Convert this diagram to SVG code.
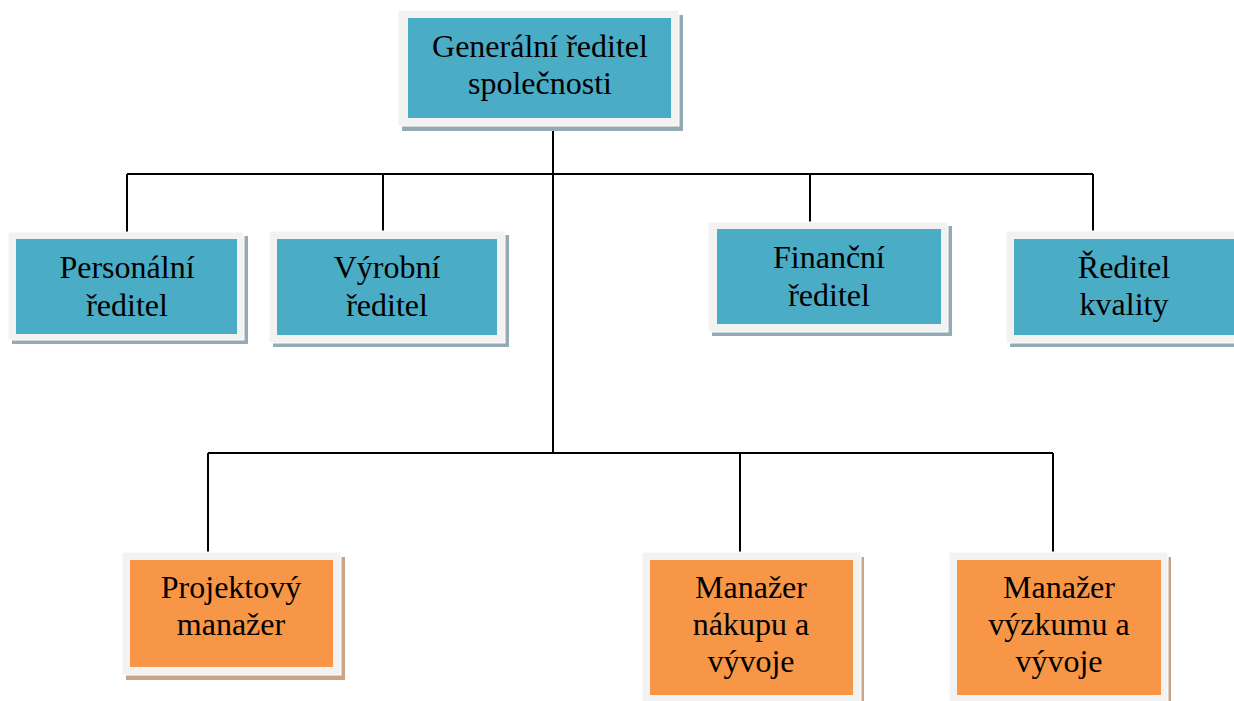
<svg xmlns="http://www.w3.org/2000/svg" width="1234" height="701" viewBox="0 0 1234 701">
<style>
.frame{fill:#f2f2f2;stroke:#ffffff;stroke-width:1}
.sb{fill:#94aab4}
.so{fill:#c9a484}
.blue{fill:#4bacc6}
.orange{fill:#f79646}
.t{font-family:"Liberation Serif","Times New Roman",serif;font-size:32px;fill:#000;text-anchor:middle}
.c{stroke:#000;stroke-width:2;fill:none}
</style>
<rect width="1234" height="701" fill="#ffffff"/>
<g id="connectors">
<path class="c" d="M553 126V453M127 174H1093M127 174V232M383 174V231M810 174V222M1093 174V231M208 453H1053M208 453V552M740 453V552M1053 453V552"/>
</g>
<g id="n-general">
<rect class="sb" x="402" y="15" width="281" height="116"/>
<rect class="frame" x="398" y="10" width="281" height="116"/>
<rect class="blue" x="408" y="18" width="263" height="100"/>
<text class="t" x="540" y="57">Generální ředitel</text>
<text class="t" x="540" y="94">společnosti</text>
</g>
<g id="n-personalni">
<rect class="sb" x="12" y="236" width="236" height="108"/>
<rect class="frame" x="8" y="232" width="236" height="108"/>
<rect class="blue" x="16" y="239" width="221" height="95"/>
<text class="t" x="127" y="278">Personální</text>
<text class="t" x="127" y="316">ředitel</text>
</g>
<g id="n-vyrobni">
<rect class="sb" x="273" y="235" width="236" height="112"/>
<rect class="frame" x="269" y="231" width="236" height="112"/>
<rect class="blue" x="277" y="239" width="220" height="96"/>
<text class="t" x="387" y="278">Výrobní</text>
<text class="t" x="387" y="316">ředitel</text>
</g>
<g id="n-financni">
<rect class="sb" x="712" y="226" width="240" height="110"/>
<rect class="frame" x="708" y="222" width="240" height="110"/>
<rect class="blue" x="717" y="229" width="224" height="95"/>
<text class="t" x="829" y="268">Finanční</text>
<text class="t" x="829" y="306">ředitel</text>
</g>
<g id="n-kvalita">
<rect class="sb" x="1010" y="235" width="230" height="112"/>
<rect class="frame" x="1006" y="231" width="232" height="112"/>
<rect class="blue" x="1014" y="239" width="222" height="96"/>
<text class="t" x="1124" y="278">Ředitel</text>
<text class="t" x="1124" y="315">kvality</text>
</g>
<g id="n-projekt">
<rect class="so" x="126" y="557" width="219" height="123"/>
<rect class="frame" x="122" y="552" width="219" height="123"/>
<rect class="orange" x="130" y="560" width="203" height="107"/>
<text class="t" x="231" y="598">Projektový</text>
<text class="t" x="231" y="635">manažer</text>
</g>
<g id="n-nakup">
<rect class="so" x="646" y="557" width="218" height="150"/>
<rect class="frame" x="642" y="552" width="219" height="150"/>
<rect class="orange" x="650" y="560" width="203" height="135"/>
<text class="t" x="751" y="598">Manažer</text>
<text class="t" x="751" y="635">nákupu a</text>
<text class="t" x="751" y="672">vývoje</text>
</g>
<g id="n-vyzkum">
<rect class="so" x="953" y="557" width="218" height="150"/>
<rect class="frame" x="949" y="552" width="219" height="150"/>
<rect class="orange" x="957" y="560" width="204" height="135"/>
<text class="t" x="1059" y="598">Manažer</text>
<text class="t" x="1059" y="635">výzkumu a</text>
<text class="t" x="1059" y="672">vývoje</text>
</g>
</svg>
